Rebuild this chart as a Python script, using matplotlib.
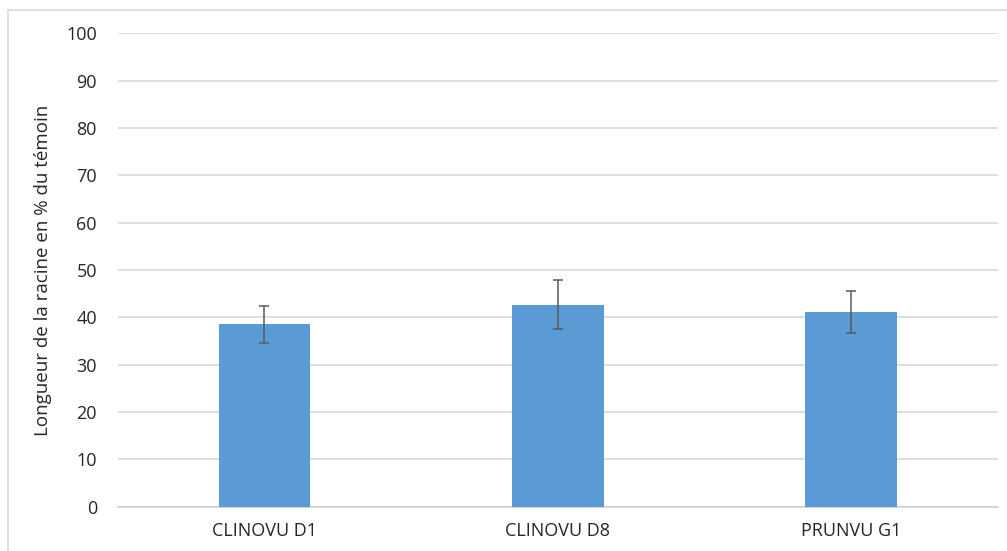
import matplotlib.pyplot as plt
import numpy as np
from matplotlib.patches import Rectangle

# Données
categories = ['CLINOVU D1', 'CLINOVU D8', 'PRUNVU G1']
valeurs = [38.5, 42.7, 41.1]
erreurs = [4.0, 5.2, 4.4]
ticks_y = [0, 10, 20, 30, 40, 50, 60, 70, 80, 90, 100]

plt.rcParams['font.family'] = ['Open Sans', 'DejaVu Sans']

fig = plt.figure(figsize=(10.07, 5.51), dpi=100)
ax = fig.add_axes([0.1169, 0.0804, 0.8741, 0.859])

# Cadre du graphique (style Excel)
fig.patches.append(Rectangle((0.0079, -0.2), 1.2, 1.182, transform=fig.transFigure,
                             fill=False, edgecolor='#D9D9D9', linewidth=1.2))

x = np.arange(len(categories))
ax.bar(x, valeurs, width=0.313, color='#5B9BD5', zorder=3)
ax.errorbar(x, valeurs, yerr=erreurs, fmt='none', ecolor='#595959',
            elinewidth=1.1, capsize=3.5, capthick=1.1, zorder=4)

ax.set_xlim(-0.5, len(categories) - 0.5)
ax.set_ylim(0, 100)
ax.set_yticks(ticks_y)
ax.set_xticks(x)
ax.set_xticklabels(categories, fontsize=13, color='#262626')
ax.tick_params(axis='y', labelsize=13, colors='#262626', length=0, pad=15)
ax.tick_params(axis='x', length=0, pad=11)

ax.grid(axis='y', color='#D9D9D9', linewidth=1.2, zorder=0)
for s in ['top', 'right', 'left']:
    ax.spines[s].set_visible(False)
ax.spines['bottom'].set_color('#D0D0D0')
ax.spines['bottom'].set_linewidth(1.2)

ax.set_ylabel('Longueur de la racine en % du témoin', fontsize=13.5, color='#262626', labelpad=10)

fig.savefig('out.png', dpi=100)
